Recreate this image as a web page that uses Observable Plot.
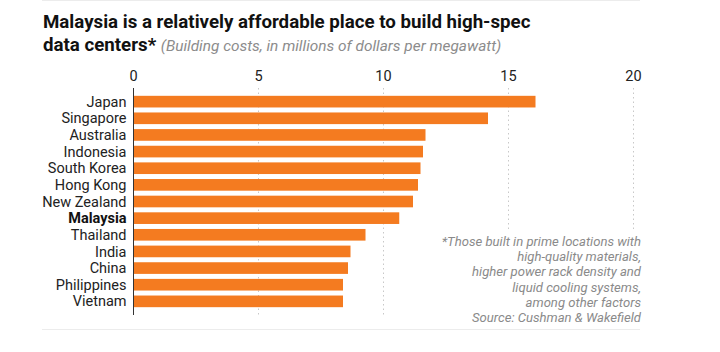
<!DOCTYPE html>
<html><head><meta charset="utf-8">
<script src="https://cdn.jsdelivr.net/npm/d3@7"></script>
<script src="https://cdn.jsdelivr.net/npm/@observablehq/plot@0.6"></script>
<style>
body{margin:0;background:#fff;font-family:Roboto,"Noto Sans",sans-serif;}
#wrap{position:relative;width:720px;height:352px;overflow:hidden;background:#fff;}
#title{position:absolute;left:43px;top:11px;white-space:nowrap;font-weight:bold;font-size:18.7px;line-height:23px;color:#111;}
#title .sub{font-weight:normal;font-style:italic;color:#8c8c8c;font-size:15.4px;}
#note{position:absolute;right:79px;top:232px;text-align:right;font-style:italic;color:#8a8a8a;font-size:13.1px;line-height:15.2px;background:#fff;padding-left:6px;padding-top:2px;}
.sep{position:absolute;left:42px;width:598px;height:1px;background:#ececec;}
#chart{position:absolute;left:0;top:0;}
</style></head>
<body>
<div id="wrap">
  <div class="sep" style="top:0px"></div>
  <div id="chart"></div>
  <div id="title">Malaysia is a relatively affordable place to build high-spec<br>data centers* <span class="sub">(Building costs, in millions of dollars per megawatt)</span></div>
  <div id="note">*Those built in prime locations with<br>high-quality materials,<br>higher power rack density and<br>liquid cooling systems,<br>among other factors<br>Source: Cushman &amp; Wakefield</div>
  <div class="sep" style="top:329px"></div>
</div>
<script>
const countries = ["Japan","Singapore","Australia","Indonesia","South Korea","Hong Kong","New Zealand","Malaysia","Thailand","India","China","Philippines","Vietnam"];
const costs = [16.1, 14.2, 11.7, 11.6, 11.5, 11.4, 11.2, 10.65, 9.3, 8.7, 8.6, 8.4, 8.4];
const xTicks = [0, 5, 10, 15, 20];
const highlight = "Malaysia";

const data = countries.map((c, i) => ({country: c, cost: costs[i]}));

const chart = Plot.plot({
  width: 720,
  height: 352,
  marginTop: 88,
  marginBottom: 37,
  marginLeft: 133,
  marginRight: 87,
  style: {fontFamily: "Roboto, sans-serif", color: "#222", background: "transparent"},
  x: {domain: [0, 20], axis: null, label: null},
  y: {domain: countries, axis: null, label: null, round: false, paddingInner: 0.3, paddingOuter: 0.47},
  marks: [
    Plot.ruleX(xTicks.filter(d => d > 0), {stroke: "#c8c8c8", strokeDasharray: "1.5,3", strokeWidth: 1}),
    Plot.barX(data, {x: "cost", y: "country", fill: "#f47b20"}),
    Plot.ruleX([0], {stroke: "#333", strokeWidth: 1}),
    Plot.axisX({anchor: "top", ticks: xTicks, tickSize: 0, tickPadding: 8, fontSize: 14.5, fill: "#222", label: null}),
    Plot.text(data.filter(d => d.country !== highlight), {x: () => 0, y: "country", text: "country", textAnchor: "end", dx: -7, fontSize: 14.5, fill: "#222"}),
    Plot.text(data.filter(d => d.country === highlight), {x: () => 0, y: "country", text: "country", textAnchor: "end", dx: -7, fontSize: 14.5, fontWeight: "bold", fill: "#111"})
  ]
});
document.getElementById("chart").appendChild(chart);
</script>
</body></html>
